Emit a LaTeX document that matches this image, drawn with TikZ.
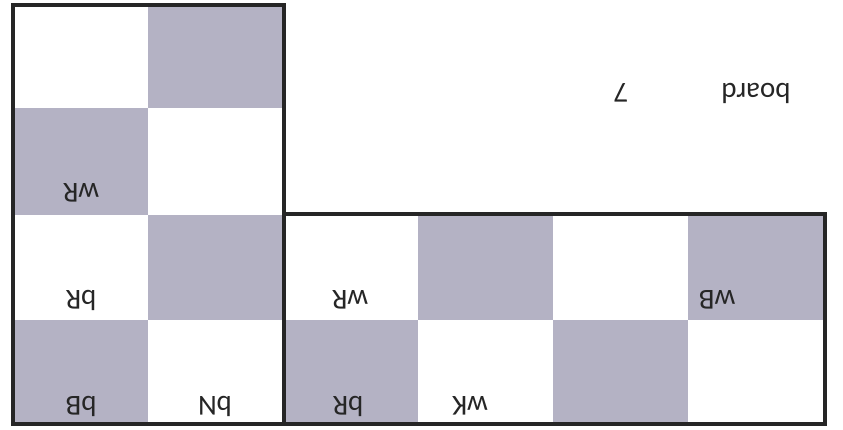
\documentclass[tikz,border=0pt]{standalone}
\usepackage{fontspec}
\setmainfont{Carlito}
\definecolor{sq}{HTML}{B4B2C4}
\begin{document}
\begin{tikzpicture}[x=1pt,y=-1pt,
  dark/.style={fill=sq},
  lbl/.style={rotate=180,font=\fontsize{29}{34}\selectfont,inner sep=0pt,text=black!85},
  frame/.style={draw=black!85,line width=3.5pt}]
\fill[white] (0,0) rectangle (843,429);
\useasboundingbox (0,0) rectangle (843,429);
% left board squares
\fill[dark] (148,5) rectangle (284,108);
\fill[dark] (13,108) rectangle (148,215);
\fill[dark] (148,215) rectangle (284,320);
\fill[dark] (13,320) rectangle (148,424);
% right board squares
\fill[dark] (418,214) rectangle (553,320);
\fill[dark] (688,214) rectangle (825,320);
\fill[dark] (284,320) rectangle (418,424);
\fill[dark] (553,320) rectangle (688,424);
% frames
\draw[frame] (13,5) rectangle (284,424);
\draw[frame] (284,214) rectangle (825,424);
% labels
\node[lbl] (lwR) at (81,193) {wR};
\node[lbl] (lbR) at (81,300) {bR};
\node[lbl] (lbB) at (81,406) {bB};
\node[lbl] (lbN) at (215,406) {bN};
\node[lbl] (rwR) at (350,300) {wR};
\node[lbl] (rwB) at (717,300) {wB};
\node[lbl] (rbR) at (348,406) {bR};
\node[lbl] (rwK) at (470,406) {wK};
\node[lbl] (title) at (756,93) {board};
\node[lbl] (num) at (621,93) {7};
\end{tikzpicture}
\end{document}
